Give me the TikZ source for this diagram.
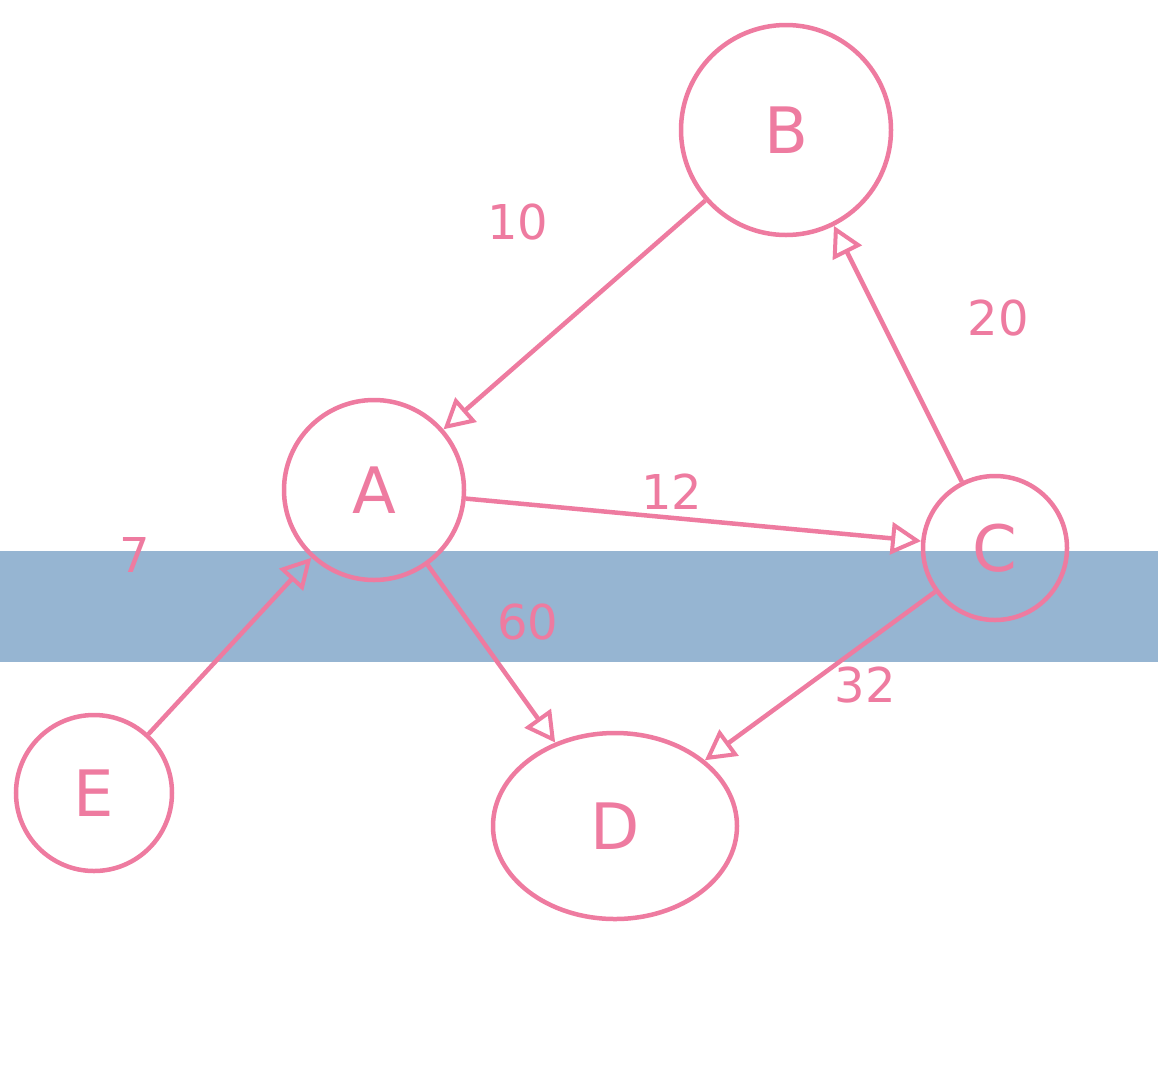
\documentclass[tikz,border=0pt]{standalone}
\usepackage{fontspec}
\setmainfont{DejaVu Sans}
\usetikzlibrary{arrows.meta,shapes.geometric}
\definecolor{pk}{HTML}{EE7BA0}
\definecolor{band}{HTML}{96B5D2}
\begin{document}
\begin{tikzpicture}[x=1pt,y=-1pt,
  vtx/.style={draw=pk,line width=4.5pt,circle,inner sep=0pt,text=pk,font=\fontsize{64}{64}\selectfont},
  edge/.style={draw=pk,line width=4.5pt,-{Triangle[open,length=30pt,width=32pt,line width=4pt]}},
  lab/.style={text=pk,font=\fontsize{48}{48}\selectfont}]
\useasboundingbox (0,0) rectangle (1158,1077);
\fill[band] (0,551) rectangle (1158,662);
\node[vtx,minimum size=210pt] (B) at (786,130) {B};
\node[vtx,minimum size=180pt] (A) at (374,490) {A};
\node[vtx,minimum size=144pt] (C) at (995,548) {C};
\node[vtx,ellipse,minimum width=244pt,minimum height=186pt] (D) at (615,826) {D};
\node[vtx,minimum size=156pt] (E) at (94,793) {E};
\draw[edge] (B) -- (A);
\draw[edge] (C) -- (B);
\draw[edge] (A) -- (C);
\draw[edge] (A) -- (D);
\draw[edge] (C) -- (D);
\draw[edge] (E) -- (A);
\node[lab] (l10) at (518,222) {10};
\node[lab] (l20) at (998,318) {20};
\node[lab] (l12) at (672,492) {12};
\node[lab] (l60) at (528,622) {60};
\node[lab] (l32) at (865,685) {32};
\node[lab] (l7) at (135,555) {7};
\end{tikzpicture}
\end{document}
